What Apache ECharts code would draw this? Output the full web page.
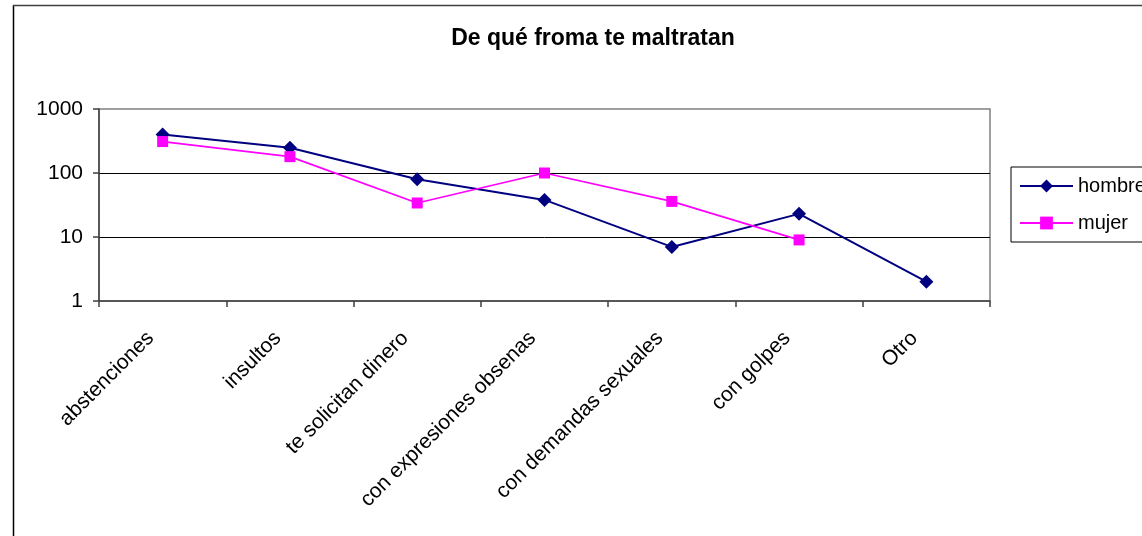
<!DOCTYPE html>
<html>
<head>
<meta charset="utf-8">
<script src="https://cdn.jsdelivr.net/npm/echarts@6/dist/echarts.min.js"></script>
<style>
html,body{margin:0;padding:0;background:#fff;}
#chart{width:1142px;height:536px;}
</style>
</head>
<body>
<div id="chart"></div>
<script>
const titleText = 'De qué froma te maltratan';
const categories = ['abstenciones', 'insultos', 'te solicitan dinero', 'con expresiones obsenas', 'con demandas sexuales', 'con golpes', 'Otro'];
const hombre = [400, 248, 80, 38, 7, 23, 2];
const mujer = [310, 180, 34, 100, 36, 9, null];
const seriesNames = ['hombre', 'mujer'];

const FONT = '"Liberation Sans", Arial, sans-serif';
const chart = echarts.init(document.getElementById('chart'), null, {renderer: 'canvas'});
chart.setOption({
  animation: false,
  backgroundColor: '#fff',
  textStyle: {fontFamily: FONT},
  title: {
    text: titleText,
    left: 588,
    top: 22,
    textAlign: 'center',
    textStyle: {fontFamily: FONT, fontSize: 23, fontWeight: 'bold', color: '#000'}
  },
  graphic: [
    {type: 'line', shape: {x1: 13.5, y1: 5, x2: 13.5, y2: 540}, style: {stroke: '#000', lineWidth: 1.5}},
    {type: 'line', shape: {x1: 13, y1: 5.5, x2: 1150, y2: 5.5}, style: {stroke: '#404040', lineWidth: 1.5}}
  ],
  legend: {
    orient: 'vertical',
    left: 1011,
    top: 167,
    padding: [9, 40, 9, 8],
    borderColor: '#000',
    borderWidth: 1,
    itemWidth: 53,
    itemHeight: 16,
    itemGap: 17,
    data: seriesNames,
    textStyle: {fontFamily: FONT, fontSize: 20, color: '#000'}
  },
  grid: {
    left: 99, right: 152, top: 109, bottom: 235,
    show: true, borderColor: '#808080', borderWidth: 1.5, backgroundColor: '#fff'
  },
  xAxis: {
    type: 'category',
    data: categories,
    boundaryGap: true,
    axisLine: {lineStyle: {color: '#404040', width: 1.5}},
    axisTick: {show: true, length: 6, inside: false, alignWithLabel: false, lineStyle: {color: '#404040', width: 1.5}},
    axisLabel: {
      interval: 0, rotate: 45, fontSize: 21, color: '#000', fontFamily: FONT,
      margin: 22, padding: [0, 17, 0, 0]
    },
    splitLine: {show: false}
  },
  yAxis: {
    type: 'log',
    logBase: 10,
    min: 1,
    max: 1000,
    axisLine: {show: true, lineStyle: {color: '#404040', width: 1.5}},
    axisTick: {show: true, length: 6, inside: false, lineStyle: {color: '#404040', width: 1.5}},
    axisLabel: {fontSize: 21, color: '#000', fontFamily: FONT, margin: 16, formatter: function (v) { return String(Math.round(v)); }},
    splitLine: {show: true, showMinLine: false, showMaxLine: false, lineStyle: {color: '#000', width: 1}},
    minorTick: {show: false}
  },
  series: [
    {
      name: seriesNames[0],
      type: 'line',
      data: hombre,
      symbol: 'diamond',
      symbolSize: 14,
      lineStyle: {color: '#000080', width: 2},
      itemStyle: {color: '#000080'},
      connectNulls: false
    },
    {
      name: seriesNames[1],
      type: 'line',
      data: mujer,
      symbol: 'rect',
      symbolSize: 11,
      lineStyle: {color: '#FF00FF', width: 1.75},
      itemStyle: {color: '#FF00FF'},
      connectNulls: false
    }
  ]
});
</script>
</body>
</html>
